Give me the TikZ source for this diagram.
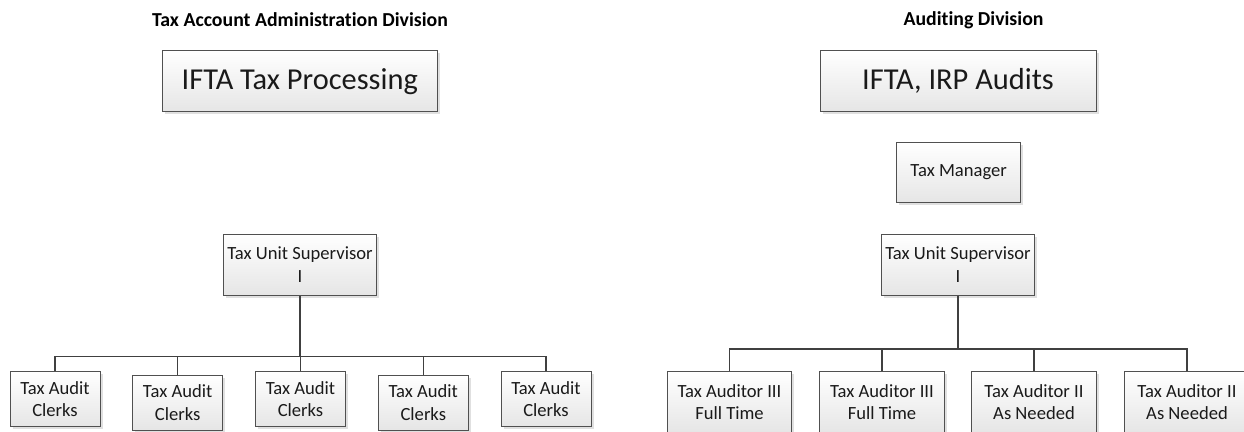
\documentclass[tikz,border=0pt]{standalone}
\usepackage{fontspec}
\setmainfont{Carlito}[Ligatures=NoCommon]
\usetikzlibrary{shadows}
\definecolor{inkline}{HTML}{404040}
\definecolor{boxedge}{HTML}{505050}
\definecolor{boxtext}{HTML}{1A1A1A}
\tikzset{
  orgbox/.style={draw=boxedge, line width=1pt, top color=white, bottom color=black!10,
    drop shadow={shadow xshift=2.5pt, shadow yshift=-2.5pt, fill=black!20, opacity=0.6},
    inner sep=0pt, align=center, text=boxtext, font=\fontsize{18.6}{22.4}\selectfont},
  bigbox/.style={orgbox, font=\fontsize{30.4}{36}\selectfont},
  divtitle/.style={inner sep=0pt, text=black, font=\bfseries\fontsize{19.8}{24}\selectfont},
  link/.style={draw=inkline, line width=1.4pt}
}
\begin{document}
\begin{tikzpicture}[x=1pt, y=-1pt]
  \useasboundingbox (0,0) rectangle (1244,431);

  % Tax Account Administration Division
  \node[divtitle] (t1) at (300,20) {Tax Account Administration Division};
  \node[bigbox, minimum width=275pt, minimum height=61pt] (p1) at (299.8,81.2) {IFTA Tax Processing};
  \node[orgbox, minimum width=153.4pt, minimum height=61pt] (s1) at (300,264.5) {Tax Unit Supervisor\\I};
  \coordinate (bus1) at (300,356.7);
  \foreach \i/\x/\y in {1/55/399.2, 2/177.7/402.5, 3/300.5/399.2, 4/423.3/402.5, 5/546/399.2}
    \node[orgbox, minimum width=90pt, minimum height=55pt] (c\i) at (\x,\y) {Tax Audit\\Clerks};
  \draw[link] (s1.south) -- (bus1);
  \foreach \i in {1,...,5}
    \draw[link] (c\i.north) |- (bus1);

  % Auditing Division
  \node[divtitle] (t2) at (973.5,20) {Auditing Division};
  \node[bigbox, minimum width=276pt, minimum height=61pt] (p2) at (958,80.5) {IFTA, IRP Audits};
  \node[orgbox, minimum width=124pt, minimum height=60.4pt] (m2) at (958.7,172.5) {Tax Manager};
  \node[orgbox, minimum width=153.4pt, minimum height=61.3pt] (s2) at (958,264.7) {Tax Unit Supervisor\\I};
  \coordinate (bus2) at (958,349);
  \foreach \i/\x/\t in {1/729.5/{Tax Auditor III\\Full Time}, 2/882/{Tax Auditor III\\Full Time},
                        3/1034/{Tax Auditor II\\As Needed}, 4/1187/{Tax Auditor II\\As Needed}}
    \node[orgbox, minimum width=124.4pt, minimum height=61.2pt] (a\i) at (\x,402.3) {\t};
  \draw[link] (s2.south) -- (bus2);
  \foreach \i in {1,...,4}
    \draw[link] (a\i.north) |- (bus2);
\end{tikzpicture}
\end{document}
